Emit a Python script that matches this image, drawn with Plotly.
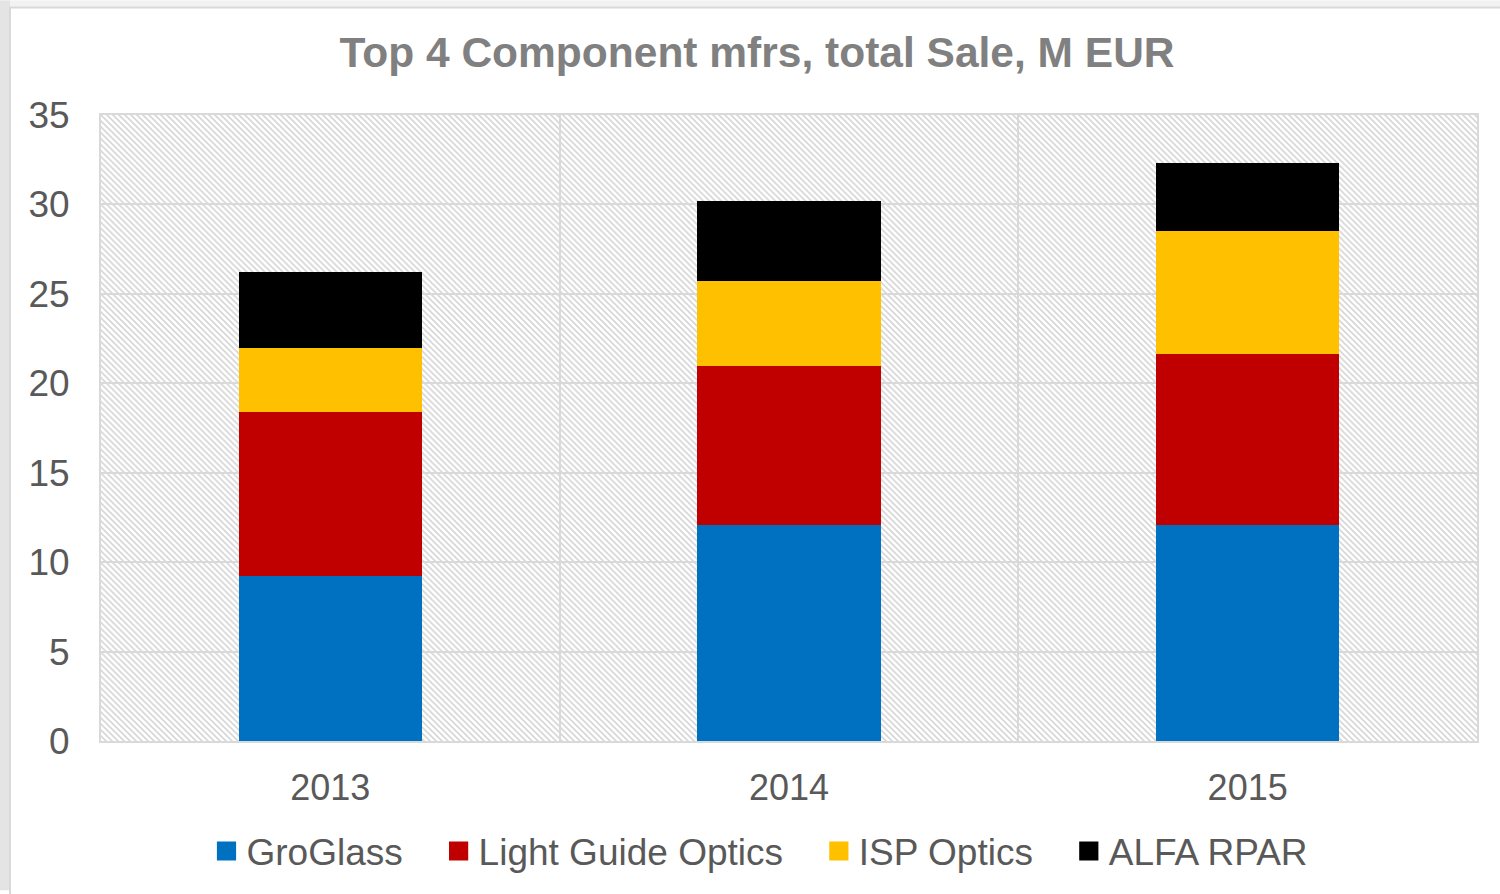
import base64
import plotly.graph_objects as go

# data (M EUR)
years = ["2013", "2014", "2015"]
groglass = [9.2, 12.1, 12.1]
light_guide = [9.2, 8.85, 9.55]
isp_optics = [3.6, 4.75, 6.85]
alfa_rpar = [4.2, 4.5, 3.8]

series_names = ["GroGlass", "Light Guide Optics", "ISP Optics", "ALFA RPAR"]
series_values = [groglass, light_guide, isp_optics, alfa_rpar]
series_colors = ["#0070C0", "#C00000", "#FFC000", "#000000"]

W, H = 1500, 894
ML, MR, MT, MB = 101, 23, 115, 150
PW, PH = W - ML - MR, H - MT - MB

FONT = "Liberation Sans, Arial, sans-serif"
TEXT = "#595959"
GRID = "#d9d9d9"
PAD = "\u00a0" * 3  # extra room between legend entries

# hatched plot background (Excel style pattern fill), as an inline svg
svg = (
    f"<svg xmlns='http://www.w3.org/2000/svg' width='{PW}' height='{PH}'>"
    "<defs><pattern id='h' width='6' height='6' patternUnits='userSpaceOnUse'>"
    "<path d='M-1,-1 L7,7 M-7,-1 L1,7 M5,-1 L13,7' stroke='#d6d6d6' stroke-width='1.6'/>"
    "</pattern></defs>"
    "<rect width='100%' height='100%' fill='white'/>"
    "<rect width='100%' height='100%' fill='url(#h)'/></svg>"
)
hatch_src = "data:image/svg+xml;base64," + base64.b64encode(svg.encode()).decode()

fig = go.Figure()
for i, (name, vals, col) in enumerate(zip(series_names, series_values, series_colors)):
    label = name + (PAD if i < len(series_names) - 1 else "")
    fig.add_trace(go.Bar(
        x=years, y=vals, name=label,
        marker=dict(color=col, line=dict(width=0)),
        width=0.4,
    ))


def px_x(p):
    return (p - ML) / PW


def px_y(p):
    return (H - MB - p) / PH


fig.update_layout(
    width=W, height=H,
    barmode="stack",
    margin=dict(l=ML, r=MR, t=MT, b=MB),
    paper_bgcolor="white",
    plot_bgcolor="rgba(0,0,0,0)",
    font=dict(family=FONT, color=TEXT, size=36),
    title=dict(
        text="<b>Top 4 Component mfrs, total Sale, M EUR</b>",
        font=dict(family=FONT, size=42.5, color="#808080"),
        x=757 / W, xanchor="center", xref="container",
        y=1 - 52 / H, yanchor="middle", yref="container",
    ),
    showlegend=True,
    legend=dict(
        orientation="h",
        x=px_x(760), xanchor="center",
        y=px_y(855), yanchor="middle",
        font=dict(size=37, color=TEXT),
        bgcolor="rgba(0,0,0,0)",
        traceorder="normal",
    ),
    xaxis=dict(
        type="category",
        range=[-0.5, 2.5],
        showgrid=True, gridcolor=GRID, gridwidth=1.5,
        tickson="boundaries",
        ticks="outside", ticklen=0,
        showline=True, linecolor=GRID, linewidth=2, mirror=True,
        tickfont=dict(size=36, color=TEXT),
        ticklabelstandoff=14,
    ),
    yaxis=dict(
        range=[0, 35], dtick=5,
        showgrid=True, gridcolor=GRID, gridwidth=1.5,
        zeroline=False,
        ticks="outside", ticklen=0,
        showline=True, linecolor=GRID, linewidth=2, mirror=True,
        tickfont=dict(size=37, color=TEXT),
        ticklabelstandoff=22,
    ),
    images=[dict(
        source=hatch_src, xref="paper", yref="paper",
        x=0, y=1, sizex=1, sizey=1,
        xanchor="left", yanchor="top",
        sizing="stretch", layer="below",
    )],
    shapes=[
        # outer slide frame
        dict(type="rect", xref="paper", yref="paper", layer="below",
             x0=px_x(0), x1=px_x(W), y0=px_y(0), y1=px_y(7),
             fillcolor="#f2f2f2", line=dict(width=0)),
        dict(type="rect", xref="paper", yref="paper", layer="below",
             x0=px_x(0), x1=px_x(10), y0=px_y(0), y1=px_y(H),
             fillcolor="#e4e4e4", line=dict(width=0)),
        dict(type="rect", xref="paper", yref="paper", layer="below",
             x0=px_x(10), x1=px_x(W + 5), y0=px_y(7), y1=px_y(H + 5),
             fillcolor="rgba(0,0,0,0)", line=dict(color=GRID, width=2)),
    ],
)

# no page margin; slightly larger legend squares like the original
post = (
    "document.body.style.margin='0';"
    "document.querySelectorAll('.legendpoints path').forEach(function(p){"
    "p.setAttribute('transform',(p.getAttribute('transform')||'')+' scale(1.6)');});"
)
fig.write_html("out.html", config={"displayModeBar": False}, post_script=post)
